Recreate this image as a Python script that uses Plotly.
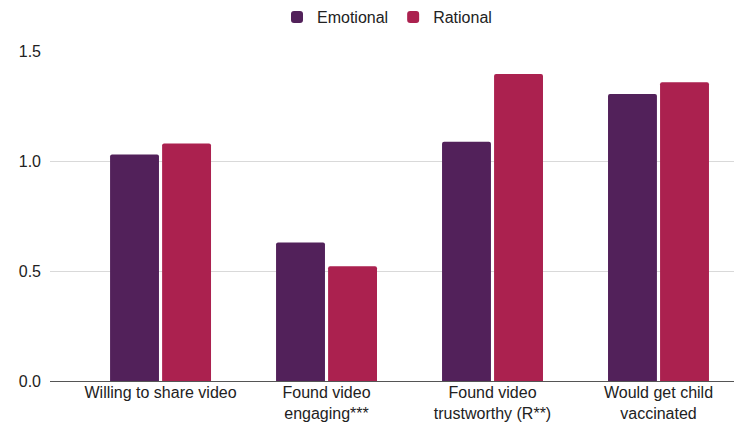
import plotly.graph_objects as go

categories = ["Willing to share video", "Found video<br>engaging***",
              "Found video<br>trustworthy (R**)", "Would get child<br>vaccinated"]
emotional = [1.03, 0.63, 1.088, 1.305]
rational = [1.08, 0.522, 1.395, 1.358]
y_ticks = [0, 0.5, 1.0, 1.5]

W, H = 734, 419  # page body has an 8px margin

fig = go.Figure()
fig.add_trace(go.Bar(name="Emotional", x=categories, y=emotional,
                     marker=dict(color="#52215A", cornerradius=2, line=dict(width=0))))
fig.add_trace(go.Bar(name="Rational", x=categories, y=rational,
                     marker=dict(color="#AB214F", cornerradius=2, line=dict(width=0))))

fig.update_layout(
    width=W, height=H,
    margin=dict(l=42, r=4, t=43, b=46, autoexpand=False),
    paper_bgcolor="white", plot_bgcolor="white",
    barmode="group", bargap=0.373, bargroupgap=0.06,
    font=dict(family="Liberation Sans, Arial, sans-serif", size=16, color="#222222"),
    legend=dict(orientation="h", x=0.5 - 7 / 688, xanchor="center",
                y=1 - 9 / H, yanchor="middle", yref="container",
                font=dict(size=16, color="#222222"), itemwidth=30,
                traceorder="normal"),
    showlegend=True,
)
fig.update_xaxes(range=[-0.666, 3.479], showgrid=False, showline=False,
                 tickfont=dict(size=16, color="#222222"), ticks="")
fig.update_yaxes(range=[0, 1.5], tickvals=y_ticks, tickformat=".1f",
                 showgrid=True, gridcolor="#d9d9d9", gridwidth=1,
                 zeroline=True, zerolinecolor="#555555", zerolinewidth=1,
                 showline=False, ticklabelstandoff=8,
                 tickfont=dict(size=16, color="#222222"))

fig.write_html("out.html")
